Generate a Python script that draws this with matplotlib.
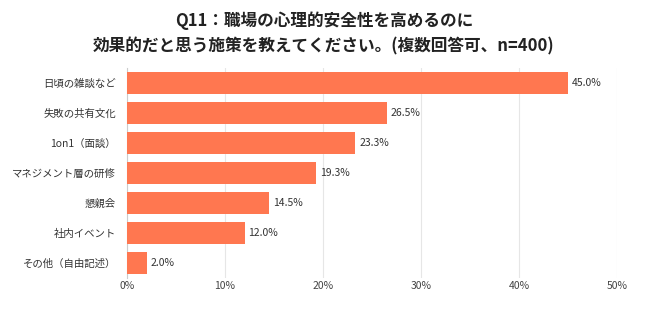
import matplotlib
matplotlib.use('Agg')
import matplotlib.pyplot as plt

plt.rcParams['font.family'] = ['Noto Sans CJK JP', 'DejaVu Sans']

labels = ['日頃の雑談など', '失敗の共有文化', '1on1（面談）', 'マネジメント層の研修',
          '懇親会', '社内イベント', 'その他（自由記述）']
values = [45.0, 26.5, 23.3, 19.3, 14.5, 12.0, 2.0]
xticks = [0, 10, 20, 30, 40, 50]
title = 'Q11：職場の心理的安全性を高めるのに\n効果的だと思う施策を教えてください。(複数回答可、n=400)'

bar_color = '#FF7750'

fig = plt.figure(figsize=(6.48, 3.10), dpi=100)
ax = fig.add_axes([0.196, 0.103, 0.756, 0.678])

y = list(range(len(labels)))
ax.barh(y, values, height=0.72, color=bar_color, zorder=3)
for yi, v in zip(y, values):
    ax.text(v + 0.4, yi, '{:.1f}%'.format(v), va='center', ha='left',
            fontsize=7.5, color='#333333')

ax.set_ylim(len(labels) - 0.5, -0.5)
ax.set_xlim(0, 50)
ax.set_yticks(y)
ax.set_yticklabels(labels, fontsize=7.5, color='#333333')
ax.set_xticks(xticks)
ax.set_xticklabels(['{}%'.format(t) for t in xticks], fontsize=7.5, color='#444444')
ax.tick_params(axis='x', length=0, pad=2)
ax.tick_params(axis='y', length=0, pad=8)

ax.grid(axis='x', color='#e6e6e6', linewidth=0.8, zorder=0)
for s in ['top', 'right', 'bottom']:
    ax.spines[s].set_visible(False)
ax.spines['left'].set_color('#cccccc')
ax.spines['left'].set_linewidth(0.8)

fig.text(0.5, 0.892, title, ha='center', va='center', fontsize=12, fontweight='bold',
         color='#222222', linespacing=1.55)

fig.savefig('out.png', dpi=100, facecolor='white')
